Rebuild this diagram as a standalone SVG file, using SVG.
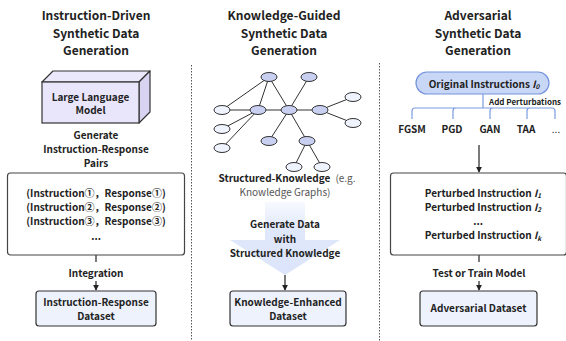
<svg xmlns="http://www.w3.org/2000/svg" width="566" height="341" viewBox="0 0 566 341">
  <defs>
    <style>
      text { font-family: "Noto Sans CJK SC", "Noto Sans", sans-serif; fill: #222; }
      .title { font-size: 12px; font-weight: 700; text-anchor: middle; }
      .lbl { font-size: 10px; font-weight: 700; text-anchor: middle; }
      .small { font-size: 8px; font-weight: 700; }
      .note { font-size: 10px; font-weight: 400; fill: #555; }
      .box { fill: #ffffff; stroke: #444; stroke-width: 1.2; }
      .dataset { fill: #edf2fd; stroke: #333; stroke-width: 1.2; }
      .divider { stroke: #555; stroke-width: 1; stroke-dasharray: 1.5 1.5; fill: none; }
      .conn { stroke: #222; stroke-width: 1.2; fill: none; }
      .edge { stroke: #333; stroke-width: 1; }
      .nb { fill: #c9cff0; stroke: #333; stroke-width: 1; }
      .nw { fill: #eef3fd; stroke: #333; stroke-width: 1; }
      .bracket { stroke: #7c9be0; stroke-width: 1.2; fill: none; }
    </style>
    <marker id="arr" viewBox="0 0 8 8" refX="7" refY="4" markerWidth="6" markerHeight="6" orient="auto" markerUnits="userSpaceOnUse">
      <path d="M0,0 L8,4 L0,8 z" fill="#222"/>
    </marker>
    <linearGradient id="bigArrow" x1="0" y1="0" x2="0" y2="1">
      <stop offset="0" stop-color="#e4ebfb" stop-opacity="0.3"/>
      <stop offset="0.35" stop-color="#e0e8fb"/>
      <stop offset="1" stop-color="#dbe4fa"/>
    </linearGradient>
  </defs>

  <!-- column dividers -->
  <g id="dividers">
    <line class="divider" x1="191.5" y1="65" x2="191.5" y2="341"/>
    <line class="divider" x1="379.5" y1="63" x2="379.5" y2="341"/>
  </g>

  <!-- column titles -->
  <g id="titles">
    <text class="title" x="96" y="20">Instruction-Driven</text>
    <text class="title" x="96" y="37.5">Synthetic Data</text>
    <text class="title" x="96" y="55">Generation</text>
    <text class="title" x="284" y="20">Knowledge-Guided</text>
    <text class="title" x="284" y="37.5">Synthetic Data</text>
    <text class="title" x="284" y="55">Generation</text>
    <text class="title" x="478" y="20">Adversarial</text>
    <text class="title" x="478" y="37.5">Synthetic Data</text>
    <text class="title" x="478" y="55">Generation</text>
  </g>

  <!-- connectors -->
  <g id="connectors">
    <line class="conn" x1="96" y1="255" x2="96" y2="262"/>
    <line class="conn" x1="96" y1="281" x2="96" y2="290" marker-end="url(#arr)"/>
    <line class="conn" x1="285" y1="275" x2="285" y2="290" marker-end="url(#arr)"/>
    <line class="conn" x1="479" y1="145" x2="479" y2="172" marker-end="url(#arr)"/>
    <line class="conn" x1="479" y1="255" x2="479" y2="262"/>
    <line class="conn" x1="479" y1="281" x2="479" y2="290" marker-end="url(#arr)"/>
  </g>

  <!-- left column -->
  <g id="llm">
    <polygon points="42,82 53,71 150,71 139,82" fill="#ece8fb" stroke="#333" stroke-width="1.2" stroke-linejoin="round"/>
    <polygon points="139,82 150,71 150,112 139,123" fill="#d8d3f0" stroke="#333" stroke-width="1.2" stroke-linejoin="round"/>
    <rect x="42" y="82" width="97" height="41" fill="#e9e5fb" stroke="#333" stroke-width="1.2"/>
    <text class="lbl" x="90.5" y="100.5">Large Language</text>
    <text class="lbl" x="90.5" y="114">Model</text>
  </g>
  <g id="generate-pairs-label">
    <text class="lbl" x="96" y="138.5">Generate</text>
    <text class="lbl" x="96" y="152.5">Instruction-Response</text>
    <text class="lbl" x="96" y="166.5">Pairs</text>
  </g>
  <g id="pairs">
    <rect class="box" x="7.5" y="173" width="177" height="82" rx="3"/>
    <text class="lbl" x="96" y="196.5">(Instruction①，Response①)</text>
    <text class="lbl" x="96" y="210.8">(Instruction②，Response②)</text>
    <text class="lbl" x="96" y="225">(Instruction③，Response③)</text>
    <text class="lbl" x="96" y="240">...</text>
  </g>
  <g id="integration-label">
    <text class="lbl" x="96" y="276.5">Integration</text>
  </g>
  <g id="ir-dataset">
    <rect class="dataset" x="36" y="291" width="120" height="35" rx="3"/>
    <text class="lbl" x="96" y="305.5">Instruction-Response</text>
    <text class="lbl" x="96" y="319.5">Dataset</text>
  </g>

  <!-- middle column: knowledge graph -->
  <g id="knowledge-graph">
    <g class="edge">
      <line x1="269" y1="77" x2="222" y2="110"/>
      <line x1="269" y1="77" x2="258" y2="110"/>
      <line x1="269" y1="77" x2="289" y2="110"/>
      <line x1="309" y1="77" x2="289" y2="110"/>
      <line x1="222" y1="110" x2="258" y2="110"/>
      <line x1="258" y1="110" x2="289" y2="110"/>
      <line x1="289" y1="110" x2="320" y2="110"/>
      <line x1="320" y1="110" x2="353" y2="97"/>
      <line x1="320" y1="110" x2="353" y2="123"/>
      <line x1="258" y1="110" x2="222" y2="129"/>
      <line x1="258" y1="110" x2="222" y2="148"/>
      <line x1="289" y1="110" x2="269" y2="141"/>
      <line x1="289" y1="110" x2="307" y2="141"/>
      <line x1="307" y1="141" x2="294" y2="167"/>
      <line x1="307" y1="141" x2="322" y2="167"/>
    </g>
    <ellipse class="nb" cx="269" cy="77" rx="8" ry="4.5"/>
    <ellipse class="nb" cx="309" cy="77" rx="8" ry="4.5"/>
    <ellipse class="nw" cx="222" cy="110" rx="8" ry="4.5"/>
    <ellipse class="nb" cx="258" cy="110" rx="8" ry="4.5"/>
    <ellipse class="nb" cx="289" cy="110" rx="8" ry="4.5"/>
    <ellipse class="nb" cx="320" cy="110" rx="8" ry="4.5"/>
    <ellipse class="nw" cx="353" cy="97" rx="8" ry="4.5"/>
    <ellipse class="nw" cx="353" cy="123" rx="8" ry="4.5"/>
    <ellipse class="nw" cx="222" cy="129" rx="8" ry="4.5"/>
    <ellipse class="nw" cx="222" cy="148" rx="8" ry="4.5"/>
    <ellipse class="nb" cx="269" cy="141" rx="8" ry="4.5"/>
    <ellipse class="nb" cx="307" cy="141" rx="8" ry="4.5"/>
    <ellipse class="nw" cx="294" cy="167" rx="8" ry="4.5"/>
    <ellipse class="nw" cx="322" cy="167" rx="8" ry="4.5"/>
  </g>
  <g id="structured-knowledge-label">
    <text x="287" y="181.5" style="font-size:10px;text-anchor:middle"><tspan font-weight="700">Structured-Knowledge</tspan><tspan class="note" dx="5">(e.g.</tspan></text>
    <text class="note" x="285" y="196" text-anchor="middle">Knowledge Graphs)</text>
  </g>
  <g id="generate-knowledge">
    <path d="M265,202 L305,202 L305,240 L340,240 L285,275 L230,240 L265,240 Z" fill="url(#bigArrow)"/>
    <text class="lbl" x="285" y="228">Generate Data</text>
    <text class="lbl" x="285" y="242.5">with</text>
    <text class="lbl" x="285" y="257">Structured Knowledge</text>
  </g>
  <g id="ke-dataset">
    <rect class="dataset" x="230" y="291" width="116" height="35" rx="3"/>
    <text class="lbl" x="288" y="305.5">Knowledge-Enhanced</text>
    <text class="lbl" x="288" y="319.5">Dataset</text>
  </g>

  <!-- right column -->
  <g id="original-instructions">
    <rect x="416" y="72" width="133" height="22" rx="11" fill="#c9d7f6" stroke="#7594dc" stroke-width="1.2"/>
    <text class="lbl" x="484" y="87.5">Original Instructions <tspan font-style="italic">I</tspan><tspan font-style="italic" font-size="6.5" dy="1.5">0</tspan></text>
  </g>
  <g id="perturbation-bracket">
    <path class="bracket" d="M483,94 L483,108 M412,119 L412,111 Q412,108 415,108 L552,108 Q555,108 555,111 L555,119 M453,119 L453,111 Q453,108 456,108 M490,119 L490,111 Q490,108 493,108 M527,119 L527,111 Q527,108 530,108"/>
    <text class="small" x="489" y="105">Add Perturbations</text>
  </g>
  <g id="methods">
    <text class="lbl" x="412" y="133">FGSM</text>
    <text class="lbl" x="452" y="133">PGD</text>
    <text class="lbl" x="490" y="133">GAN</text>
    <text class="lbl" x="526" y="133">TAA</text>
    <text class="lbl" x="556" y="133" style="font-weight:400">...</text>
  </g>
  <g id="perturbed">
    <rect class="box" x="390.5" y="173" width="176" height="82" rx="3"/>
    <text class="lbl" x="483" y="196.5">Perturbed Instruction <tspan font-style="italic">I</tspan><tspan font-style="italic" font-size="6.5" dy="1.5">1</tspan></text>
    <text class="lbl" x="483" y="210.5">Perturbed Instruction <tspan font-style="italic">I</tspan><tspan font-style="italic" font-size="6.5" dy="1.5">2</tspan></text>
    <text class="lbl" x="478" y="224.5">...</text>
    <text class="lbl" x="483" y="239">Perturbed Instruction <tspan font-style="italic">I</tspan><tspan font-style="italic" font-size="6.5" dy="1.5">k</tspan></text>
  </g>
  <g id="test-train-label">
    <text class="lbl" x="479" y="276.5">Test or Train Model</text>
  </g>
  <g id="adv-dataset">
    <rect class="dataset" x="420" y="291" width="117" height="35" rx="3"/>
    <text class="lbl" x="478.5" y="312">Adversarial Dataset</text>
  </g>
</svg>
